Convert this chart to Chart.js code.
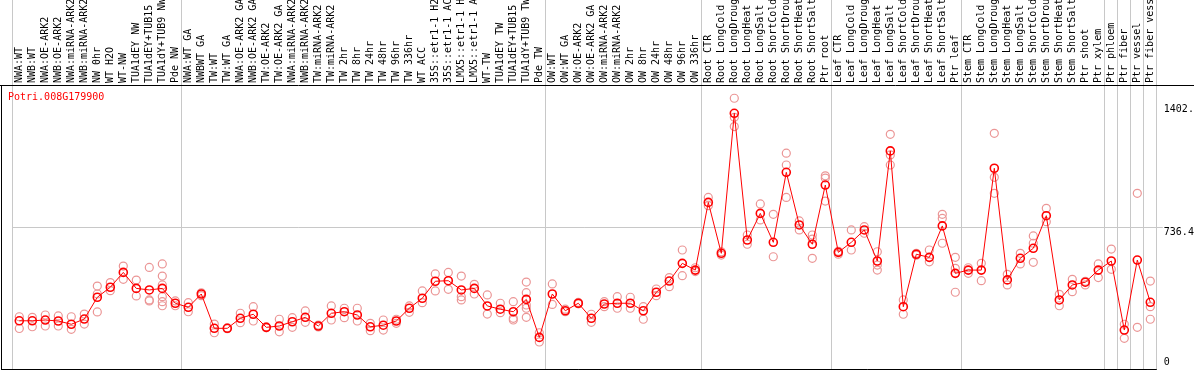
<!DOCTYPE html>
<html>
<head>
<meta charset="utf-8">
<script src="https://cdn.jsdelivr.net/npm/chart.js@4.4.1/dist/chart.umd.min.js"></script>
<style>
  html, body { margin: 0; padding: 0; background: #fff; }
  #wrap { width: 1194px; height: 370px; position: relative; }
</style>
</head>
<body>
<div id="wrap"><canvas id="efpChart"></canvas></div>
<script>
const geneId = 'Potri.008G179900';

const samples = [
  'NWA:WT', 'NWB:WT', 'NWA:OE-ARK2', 'NWB:OE-ARK2', 'NWA:miRNA-ARK2', 'NWB:miRNA-ARK2',
  'NW 0hr', 'WT H2O', 'WT-NW', 'TUA1dEY NW', 'TUA1dEY+TUB15 NW', 'TUA1dY+TUB9 NW', 'Pde NW',
  'NWA:WT GA', 'NWBWT GA', 'TW:WT', 'TW:WT GA', 'NWA:OE-ARK2 GA', 'NWB:OE-ARK2 GA',
  'TW:OE-ARK2', 'TW:OE-ARK2 GA', 'NWA:miRNA-ARK2 GA', 'NWB:miRNA-ARK2 GA', 'TW:miRNA-ARK2',
  'TW:miRNA-ARK2 GA', 'TW 2hr', 'TW 8hr', 'TW 24hr', 'TW 48hr', 'TW 96hr', 'TW 336hr', 'WT ACC',
  '35S::etr1-1 H2O', '35S::etr1-1 ACC', 'LMX5::etr1-1 H2O', 'LMX5::etr1-1 ACC', 'WT-TW',
  'TUA1dEY TW', 'TUA1dEY+TUB15 TW', 'TUA1dY+TUB9 TW', 'Pde TW',
  'OW:WT', 'OW:WT GA', 'OW:OE-ARK2', 'OW:OE-ARK2 GA', 'OW:miRNA-ARK2', 'OW:miRNA-ARK2 GA',
  'OW 2hr', 'OW 8hr', 'OW 24hr', 'OW 48hr', 'OW 96hr', 'OW 336hr',
  'Root CTR', 'Root LongCold', 'Root LongDrought', 'Root LongHeat', 'Root LongSalt',
  'Root ShortCold', 'Root ShortDrought', 'Root ShortHeat', 'Root ShortSalt', 'Ptr root',
  'Leaf CTR', 'Leaf LongCold', 'Leaf LongDrought', 'Leaf LongHeat', 'Leaf LongSalt',
  'Leaf ShortCold', 'Leaf ShortDrought', 'Leaf ShortHeat', 'Leaf ShortSalt', 'Ptr leaf',
  'Stem CTR', 'Stem LongCold', 'Stem LongDrought', 'Stem LongHeat', 'Stem LongSalt',
  'Stem ShortCold', 'Stem ShortDrought', 'Stem ShortHeat', 'Stem ShortSalt', 'Ptr shoot',
  'Ptr xylem', 'Ptr phloem', 'Ptr fiber', 'Ptr vessel', 'Ptr fiber vessel'
];

// mean expression per sample
const means = [
  250, 250, 254, 249, 232, 259, 372, 424, 501, 418,
  410, 418, 341, 320, 389, 211, 211, 263, 284, 216,
  223, 245, 268, 223, 289, 297, 280, 219, 227, 249,
  315, 367, 455, 458, 410, 418, 327, 310, 297, 361,
  164, 389, 302, 341, 263, 337, 341, 341, 302, 398,
  456, 548, 513, 864, 600, 1326, 669, 807, 657, 1020,
  747, 647, 954, 605, 657, 721, 560, 1131, 323, 595,
  579, 742, 496, 513, 513, 1041, 462, 574, 626, 795,
  358, 436, 450, 513, 560, 202, 565, 346
];

// replicate values
const rep1 = [
  271, 268, 280, 275, 271, 285, 430, 448, 534, 461,
  527, 545, 353, 344, 395, 233, 213, 289, 323, 218,
  258, 266, 301, 228, 327, 315, 315, 237, 254, 258,
  327, 405, 493, 501, 482, 439, 384, 341, 349, 451,
  188, 441, 310, 345, 284, 349, 375, 372, 323, 415,
  474, 617, 525, 890, 608, 1404, 695, 856, 802, 1119,
  768, 695, 1002, 595, 721, 738, 608, 1217, 358, 600,
  617, 802, 579, 525, 548, 1222, 491, 600, 690, 833,
  387, 465, 436, 545, 622, 232, 911, 456
];
const rep2 = [
  210, 219, 223, 223, 206, 233, 296, 406, 465, 379,
  358, 328, 328, 297, 380, 188, 209, 240, 249, 214,
  193, 216, 242, 218, 254, 266, 249, 199, 202, 237,
  294, 344, 405, 413, 375, 389, 285, 292, 263, 268,
  140, 335, 297, 338, 242, 323, 315, 315, 258, 380,
  427, 484, 505, 847, 591, 1257, 647, 773, 582, 890,
  721, 574, 871, 610, 617, 704, 513, 1058, 284, 590,
  556, 652, 398, 496, 458, 911, 436, 545, 553, 764,
  328, 401, 455, 474, 517, 159, 216, 258
];
const rep3 = [
  null, null, null, null, null, null, 389, null, null, null,
  353, 482, null, null, null, null, null, null, null, null,
  null, null, null, null, null, null, null, null, null, null,
  null, null, null, null, 358, null, null, null, 254, 396,
  null, null, null, null, null, null, null, null, null, null,
  null, null, null, null, null, 1305, null, null, null, 1058,
  null, 674, 990, null, null, null, 539, 1110, null, null,
  null, 781, 522, null, null, 994, null, null, 652, null,
  null, null, null, null, null, null, null, 323
];
// extra replicates [sample index, value]
const rep4Pairs = [[11, 436], [39, 332]];
const rep5Pairs = [[11, 375], [39, 315]];
const rep6Pairs = [[11, 349]];

const yTicks = [0, 736.4, 1402.6];
const yMax = 1472.8;
// sample index where each group starts (vertical separators)
const groupStarts = [0, 13, 41, 53, 63, 73, 84, 85, 86, 87];

const sparse = pairs => {
  const a = samples.map(() => null);
  pairs.forEach(([i, v]) => { a[i] = v; });
  return a;
};

const monoFont = { family: '"DejaVu Sans Mono", monospace', size: 10 };
const gray = '#c8c8c8';
const clear = 'rgba(0,0,0,0)';

const xGridColor = (c) => {
  if (c.type !== 'tick' || groupStarts.includes(c.index)) return gray;
  return clear;
};

// no extra room for labels, the reference lets them clip
const noPad = (s) => {
  s.paddingTop = 0;
  s.paddingBottom = 0;
  s.paddingLeft = 0;
  s.paddingRight = 0;
};

const framePlugin = {
  id: 'frame',
  afterDraw(chart) {
    const { ctx, chartArea } = chart;
    ctx.save();
    ctx.strokeStyle = '#000';
    ctx.lineWidth = 1;
    ctx.beginPath();
    ctx.moveTo(0, chartArea.top + 0.5);
    ctx.lineTo(chart.width, chartArea.top + 0.5);
    ctx.moveTo(1.5, chartArea.top);
    ctx.lineTo(1.5, chartArea.bottom + 1);
    ctx.moveTo(1, chartArea.bottom + 0.5);
    ctx.lineTo(chartArea.right, chartArea.bottom + 0.5);
    ctx.stroke();
    ctx.fillStyle = '#ff0000';
    ctx.font = '10px "DejaVu Sans Mono"';
    ctx.textBaseline = 'middle';
    ctx.fillText(geneId, 8, chartArea.top + 12);
    ctx.restore();
  }
};

const repStyle = {
  showLine: false,
  pointRadius: 4,
  pointBorderWidth: 1.2,
  pointBorderColor: '#eb9696',
  pointBackgroundColor: clear
};

new Chart(document.getElementById('efpChart'), {
  type: 'line',
  data: {
    labels: samples,
    datasets: [
      {
        label: geneId,
        data: means,
        borderColor: '#ff0000',
        borderWidth: 1,
        pointRadius: 4,
        pointBorderWidth: 1.6,
        pointBorderColor: '#ff0000',
        pointBackgroundColor: clear
      },
      { label: 'rep1', data: rep1, ...repStyle },
      { label: 'rep2', data: rep2, ...repStyle },
      { label: 'rep3', data: rep3, ...repStyle },
      { label: 'rep4', data: sparse(rep4Pairs), ...repStyle },
      { label: 'rep5', data: sparse(rep5Pairs), ...repStyle },
      { label: 'rep6', data: sparse(rep6Pairs), ...repStyle }
    ]
  },
  options: {
    responsive: true,
    maintainAspectRatio: false,
    animation: false,
    layout: { autoPadding: false, padding: { left: 12.8, right: 0, top: 0, bottom: 1 } },
    plugins: {
      legend: { display: false },
      tooltip: { enabled: false }
    },
    scales: {
      x: {
        position: 'top',
        offset: true,
        afterFit: (s) => { s.height = 85; noPad(s); },
        grid: { offset: true, color: xGridColor, drawTicks: true, tickLength: 85 },
        border: { display: false },
        ticks: {
          autoSkip: false,
          minRotation: 90,
          maxRotation: 90,
          padding: -83,
          labelOffset: 12,
          color: '#000',
          font: monoFont
        }
      },
      y: {
        position: 'right',
        min: 0,
        max: yMax,
        afterFit: (s) => { s.width = 37.2; noPad(s); },
        afterBuildTicks: (s) => { s.ticks = yTicks.map(v => ({ value: v })); },
        grid: {
          color: (c) => (c.tick && c.tick.value === 736.4 ? gray : clear),
          drawTicks: true,
          tickLength: 6
        },
        border: { display: false },
        ticks: {
          align: 'start',
          padding: 1,
          color: '#000',
          font: monoFont,
          callback: (v) => {
            if (v === 0) return ['0', '', ''];
            if (v === 736.4) return '736.4';
            return ['', String(v)];
          }
        }
      }
    }
  },
  plugins: [framePlugin]
});
</script>
</body>
</html>
